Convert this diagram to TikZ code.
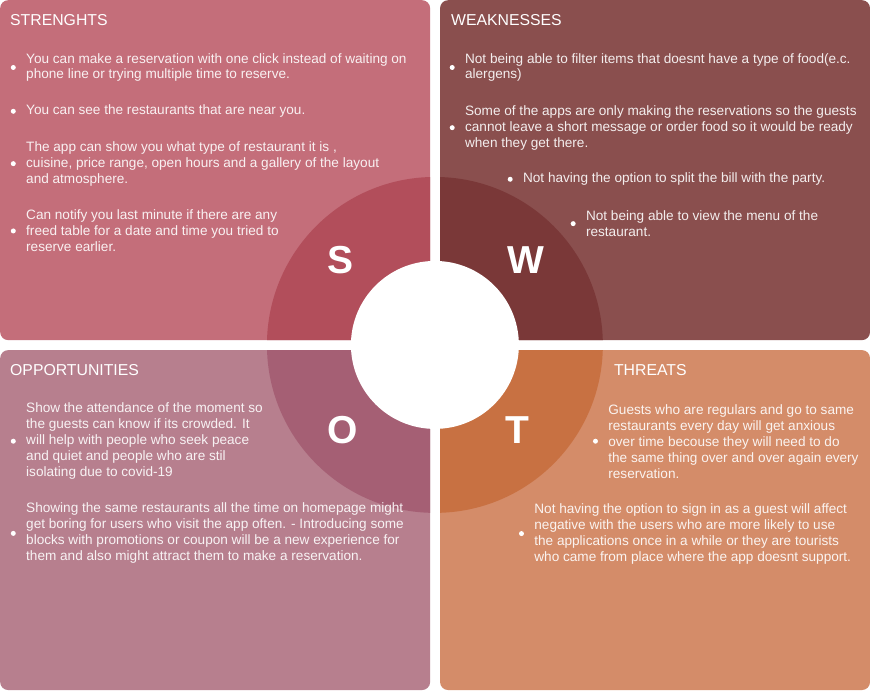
\documentclass[tikz,border=0pt]{standalone}
\usepackage{fontspec}
\setmainfont{Liberation Sans}
\usepackage{xcolor}
\usepackage{tikz}
\usetikzlibrary{positioning}
\definecolor{strpanel}{HTML}{C46E7A}
\definecolor{strring}{HTML}{B24E5B}
\definecolor{weakpanel}{HTML}{8A4F4E}
\definecolor{weakring}{HTML}{7A3838}
\definecolor{opppanel}{HTML}{B77F8E}
\definecolor{oppring}{HTML}{A55F74}
\definecolor{thrpanel}{HTML}{D48C69}
\definecolor{thrring}{HTML}{C87142}

\tikzset{
  panel/.style={rounded corners=8pt, anchor=north west, minimum width=430pt,
                minimum height=340pt, inner sep=0pt},
  heading/.style={anchor=west, inner sep=0pt, yshift=-1pt, text=white,
                  font=\fontsize{15.8}{18}\selectfont},
  item/.style={anchor=west, inner sep=0pt, yshift=-2pt, align=left, text=white,
               text opacity=0.9, font=\fontsize{13.6}{16}\selectfont},
  dot/.style={circle, fill=white, minimum size=5pt, inner sep=0pt},
  letter/.style={text=white, inner sep=0pt, font=\fontsize{39}{39}\selectfont\bfseries}
}

\begin{document}
\begin{tikzpicture}[x=1pt, y=-1pt]
  \fill[white] (0,0) rectangle (870,690);
  \coordinate (ctr) at (435,345);

  % four panels, each with its quarter of the ring
  \node[panel, fill=strpanel, path picture={\fill[strring] (ctr) circle (168pt);}] (S) at (0,0) {};
  \node[panel, fill=weakpanel, path picture={\fill[weakring] (ctr) circle (168pt);}] (W) at (440,0) {};
  \node[panel, fill=opppanel, path picture={\fill[oppring] (ctr) circle (168pt);}] (O) at (0,350) {};
  \node[panel, fill=thrpanel, path picture={\fill[thrring] (ctr) circle (168pt);}] (T) at (440,350) {};
  \node[circle, fill=white, minimum size=168pt, inner sep=0pt] (hub) at (ctr) {};

  \node[letter] (lS) at (341,260) {S};
  \node[letter] (lW) at (526,260) {W};
  \node[letter] (lO) at (343,430) {O};
  \node[letter] (lT) at (518,430) {T};

  % strengths
  \node[heading] (hS) at (10,19) {STRENGHTS};
  \node[item] (s1) at (26,65.5) {You can make a reservation with one click instead of waiting on\\
    phone line or trying multiple time to reserve.};
  \node[dot, left=10pt of s1] (s1d) {};
  \node[item] (s2) at (26,109.3) {You can see the restaurants that are near you.};
  \node[dot, left=10pt of s2] (s2d) {};
  \node[item] (s3) at (26,161.7) {The app can show you what type of restaurant it is ,\\
    cuisine, price range, open hours and a gallery of the layout\\
    and atmosphere.};
  \node[dot, left=10pt of s3] (s3d) {};
  \node[item] (s4) at (26,229) {Can notify you last minute if there are any\\
    freed table for a date and time you tried to\\
    reserve earlier.};
  \node[dot, left=10pt of s4] (s4d) {};

  % weaknesses
  \node[heading] (hW) at (451,19) {WEAKNESSES};
  \node[item] (w1) at (465,65.5) {Not being able to filter items that doesnt have a type of food(e.c.\\
    alergens)};
  \node[dot, left=10pt of w1] (w1d) {};
  \node[item] (w2) at (465,125.7) {Some of the apps are only making the reservations so the guests\\
    cannot leave a short message or order food so it would be ready\\
    when they get there.};
  \node[dot, left=10pt of w2] (w2d) {};
  \node[item] (w3) at (523,177.3) {Not having the option to split the bill with the party.};
  \node[dot, left=10pt of w3] (w3d) {};
  \node[item] (w4) at (586,221.7) {Not being able to view the menu of the\\
    restaurant.};
  \node[dot, left=10pt of w4] (w4d) {};

  % opportunities
  \node[heading] (hO) at (10,369.3) {OPPORTUNITIES};
  \node[item] (o1) at (26,439.3) {Show the attendance of the moment so\\
    the guests can know if its crowded. It\\
    will help with people who seek peace\\
    and quiet and people who are stil\\
    isolating due to covid-19};
  \node[dot, left=10pt of o1] (o1d) {};
  \node[item] (o2) at (26,531.5) {Showing the same restaurants all the time on homepage might\\
    get boring for users who visit the app often. - Introducing some\\
    blocks with promotions or coupon will be a new experience for\\
    them and also might attract them to make a reservation.};
  \node[dot, left=10pt of o2] (o2d) {};

  % threats
  \node[heading] (hT) at (614,369.3) {THREATS};
  \node[item] (t1) at (608.3,439.3) {Guests who are regulars and go to same\\
    restaurants every day will get anxious\\
    over time becouse they will need to do\\
    the same thing over and over again every\\
    reservation.};
  \node[dot, left=10pt of t1] (t1d) {};
  \node[item] (t2) at (534.3,531.7) {Not having the option to sign in as a guest will affect\\
    negative with the users who are more likely to use\\
    the applications once in a while or they are tourists\\
    who came from place where the app doesnt support.};
  \node[dot, left=10pt of t2] (t2d) {};
\end{tikzpicture}
\end{document}
